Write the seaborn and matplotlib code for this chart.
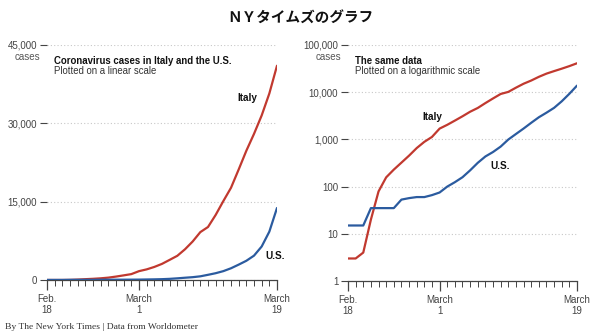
import numpy as np
import pandas as pd
import matplotlib
matplotlib.use("Agg")
import matplotlib.pyplot as plt
import matplotlib.dates as mdates
from matplotlib.ticker import FixedLocator, FuncFormatter
import seaborn as sns

# ---- data ----
dates = pd.date_range("2020-02-18", "2020-03-19", freq="D")
italy = [3, 3, 4, 20, 79, 157, 229, 322, 453, 655, 888, 1128, 1694, 2036, 2502,
         3089, 3858, 4636, 5883, 7375, 9172, 10149, 12462, 15113, 17660, 21157,
         24747, 27980, 31506, 35713, 41035]
us = [15, 15, 15, 35, 35, 35, 35, 53, 57, 60, 60, 66, 75, 100, 124, 158, 221,
      319, 435, 541, 704, 994, 1301, 1697, 2247, 2943, 3680, 4663, 6411, 9259, 13789]
countries = ["Italy", "U.S."]
lin_ticks = [0, 15000, 30000, 45000]
log_ticks = [1, 10, 100, 1000, 10000, 100000]
major_dates = ["2020-02-18", "2020-03-01", "2020-03-19"]
major_labels = ["Feb.\n18", "March\n1", "March\n19"]

df = pd.DataFrame({
    "date": list(dates) * 2,
    "cases": italy + us,
    "country": ["Italy"] * len(italy) + ["U.S."] * len(us),
})

RED = "#c1392f"
BLUE = "#2b5b9f"
palette = {"Italy": RED, "U.S.": BLUE}

sns.set_style("white")
plt.rcParams["font.family"] = ["Liberation Sans", "DejaVu Sans"]
NARROW = ["Liberation Sans Narrow", "Liberation Sans", "DejaVu Sans"]

fig = plt.figure(figsize=(6, 3.34), dpi=100)
axL = fig.add_axes([47 / 600, 54 / 334, 230 / 600, 235 / 334])
axR = fig.add_axes([348 / 600, 53 / 334, 229 / 600, 236 / 334])

for ax, log in [(axL, False), (axR, True)]:
    sns.lineplot(data=df, x="date", y="cases", hue="country", palette=palette,
                 legend=False, ax=ax, linewidth=1.6, zorder=3)
    if log:
        ax.set_yscale("log")
        ax.set_ylim(1, 100000)
        ax.yaxis.set_major_locator(FixedLocator(log_ticks))
        ax.yaxis.set_minor_locator(FixedLocator([]))
    else:
        ax.set_ylim(0, 45000)
        ax.yaxis.set_major_locator(FixedLocator(lin_ticks))
    ax.yaxis.set_major_formatter(FuncFormatter(lambda v, p: f"{v:,.0f}"))
    ax.set_xlim(dates[0], dates[-1])
    ax.xaxis.set_major_locator(FixedLocator(mdates.date2num(pd.to_datetime(major_dates))))
    ax.set_xticklabels(major_labels)
    ax.xaxis.set_minor_locator(mdates.DayLocator())
    ax.set_xlabel("")
    ax.set_ylabel("")
    for s in ["top", "right", "left"]:
        ax.spines[s].set_visible(False)
    ax.spines["bottom"].set_color("#444444")
    ax.spines["bottom"].set_linewidth(0.9)
    ax.spines["bottom"].set_zorder(2)
    ax.tick_params(axis="x", which="both", bottom=True)
    ax.tick_params(axis="x", which="major", direction="out", length=7, width=0.9,
                   color="#444444", pad=3, labelsize=7, labelcolor="#444444")
    ax.tick_params(axis="x", which="minor", direction="out", length=4, width=0.7,
                   color="#444444")
    ax.tick_params(axis="y", which="major", direction="out", length=5, width=0.8,
                   color="#444444", pad=2, left=True, labelsize=7, labelcolor="#444444")
    ax.yaxis.grid(True, linestyle=(0, (1, 2)), color="#c8c8c8", linewidth=0.8)
    ax.xaxis.grid(False)
    ax.annotate("cases", xy=(0, 1), xycoords="axes fraction", xytext=(-5.2, -9),
                textcoords="offset points", ha="right", va="center",
                fontsize=7, color="#555555")

FS = 6.9
axL.text(0.03, 0.932, "Coronavirus cases in Italy and the U.S.", transform=axL.transAxes,
         fontsize=FS, fontweight="bold", color="#111111", va="center", family=NARROW)
axL.text(0.03, 0.889, "Plotted on a linear scale", transform=axL.transAxes,
         fontsize=FS, color="#333333", va="center", family=NARROW)
axL.text(0.87, 0.774, "Italy", transform=axL.transAxes, fontsize=FS + 0.3,
         fontweight="bold", color="#111111", ha="center", va="center", family=NARROW)
axL.text(0.99, 0.102, "U.S.", transform=axL.transAxes, fontsize=FS + 0.3,
         fontweight="bold", color="#111111", ha="center", va="center", family=NARROW)

axR.text(0.03, 0.932, "The same data", transform=axR.transAxes,
         fontsize=FS, fontweight="bold", color="#111111", va="center", family=NARROW)
axR.text(0.03, 0.889, "Plotted on a logarithmic scale", transform=axR.transAxes,
         fontsize=FS, color="#333333", va="center", family=NARROW)
axR.text(0.367, 0.695, "Italy", transform=axR.transAxes, fontsize=FS + 0.3,
         fontweight="bold", color="#111111", ha="center", va="center", family=NARROW)
axR.text(0.664, 0.487, "U.S.", transform=axR.transAxes, fontsize=FS + 0.3,
         fontweight="bold", color="#111111", ha="center", va="center", family=NARROW)

fig.text(0.5, 1 - 18 / 334, "ＮＹタイムズのグラフ", ha="center", va="center",
         fontsize=10.5, fontweight="bold", family=["Noto Sans CJK JP", "DejaVu Sans"],
         color="#111111")
fig.text(5 / 600, 1 - 327 / 334, "By The New York Times | Data from Worldometer",
         ha="left", va="center", fontsize=6.8, family=["Liberation Serif", "DejaVu Serif"],
         color="#333333")

fig.savefig("out.png", dpi=100)
